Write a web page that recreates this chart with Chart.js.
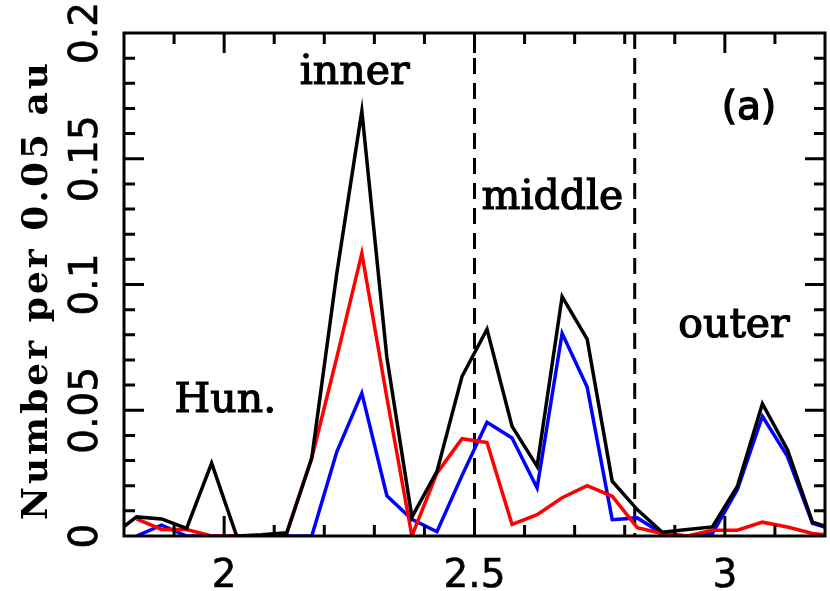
<!DOCTYPE html>
<html>
<head>
<meta charset="utf-8">
<script src="https://cdn.jsdelivr.net/npm/chart.js@4.4.1/dist/chart.umd.min.js"></script>
<style>
  body { margin: 0; background: #fff; }
  canvas { display: block; }
</style>
</head>
<body>
<canvas id="distChart" width="830" height="591"></canvas>
<script>
// bin centres in au (0.05 au bins)
var binCentres = [1.775, 1.825, 1.875, 1.925, 1.975, 2.025, 2.075, 2.125, 2.175, 2.225,
                  2.275, 2.325, 2.375, 2.425, 2.475, 2.525, 2.575, 2.625, 2.675, 2.725,
                  2.775, 2.825, 2.875, 2.925, 2.975, 3.025, 3.075, 3.125, 3.175, 3.225];
var totalCounts = [0, 0.0076, 0.0068, 0.003, 0.029, 0, 0.0005, 0.0013, 0.031, 0.1045,
                   0.169, 0.071, 0.0075, 0.0257, 0.0634, 0.0822, 0.0436, 0.0277, 0.0952, 0.0783,
                   0.0218, 0.0105, 0.0015, 0.0026, 0.0036, 0.0198, 0.0526, 0.0343, 0.0055, 0.0023];
var redCounts = [null, 0.0068, 0.0026, 0.0026, 0, 0, 0, 0.001, 0.031, 0.071,
                 0.1124, 0.055, 0, 0.025, 0.0387, 0.0372, 0.0046, 0.0085, 0.0152, 0.020,
                 0.0158, 0.0033, 0.001, 0, 0.0023, 0.0023, 0.0055, 0.0036, 0.001, 0];
var blueCounts = [null, 0, 0.0043, 0, 0, 0, 0, 0, 0, 0.0335,
                  0.0568, 0.016, 0.0066, 0.0017, 0.024, 0.0452, 0.039, 0.0191, 0.0806, 0.0592,
                  0.0065, 0.0072, 0.001, 0, 0.001, 0.0185, 0.0476, 0.0317, 0.005, 0.002];

var xTicks = [2, 2.5, 3];
var xTickLabels = ['2', '2.5', '3'];
var yTicks = [0, 0.05, 0.1, 0.15, 0.2];
var yTickLabels = ['0', '0.05', '0.1', '0.15', '0.2'];
var boundaries = [2.5, 2.82];
var regionNames = ['Hun.', 'inner', 'middle', 'outer'];
var regionSpots = [[1.901, 0.0495], [2.151, 0.1798], [2.514, 0.1302], [2.907, 0.0793]];

function pts(ys) {
  return binCentres.map(function (a, i) { return { x: a, y: ys[i] }; });
}

function heavyText(ctx, txt, x, y, w) {
  ctx.lineWidth = w;
  ctx.strokeText(txt, x, y);
  ctx.fillText(txt, x, y);
}

var framePlugin = {
  id: 'frame',
  beforeDatasetsDraw: function (chart) {
    var ctx = chart.ctx, area = chart.chartArea, xs = chart.scales.x;
    ctx.save();
    ctx.strokeStyle = '#000';
    ctx.lineWidth = 3;
    ctx.setLineDash([16, 9]);
    boundaries.forEach(function (b) {
      var px = xs.getPixelForValue(b);
      ctx.beginPath();
      ctx.moveTo(px, area.top);
      ctx.lineTo(px, area.bottom);
      ctx.stroke();
    });
    ctx.restore();
  },
  afterDatasetsDraw: function (chart) {
    var ctx = chart.ctx, area = chart.chartArea;
    var xs = chart.scales.x, ys = chart.scales.y;
    ctx.save();
    ctx.strokeStyle = '#000';
    ctx.fillStyle = '#000';
    ctx.lineWidth = 3;
    ctx.setLineDash([]);
    ctx.strokeRect(area.left, area.top, area.right - area.left, area.bottom - area.top);

    // ticks on all four sides, pointing inward
    ctx.beginPath();
    for (var i = 19; i <= 31; i++) {
      var px = xs.getPixelForValue(i / 10);
      var len = (i % 5 === 0) ? 20 : 11;
      ctx.moveTo(px, area.bottom); ctx.lineTo(px, area.bottom - len);
      ctx.moveTo(px, area.top); ctx.lineTo(px, area.top + len);
    }
    for (var j = 1; j < 20; j++) {
      var py = ys.getPixelForValue(j / 100);
      var ylen = (j % 5 === 0) ? 20 : 11;
      ctx.moveTo(area.left, py); ctx.lineTo(area.left + ylen, py);
      ctx.moveTo(area.right, py); ctx.lineTo(area.right - ylen, py);
    }
    ctx.stroke();

    // tick labels
    ctx.font = '39px "DejaVu Sans"';
    ctx.textAlign = 'center';
    ctx.textBaseline = 'alphabetic';
    xTicks.forEach(function (v, k) {
      heavyText(ctx, xTickLabels[k], xs.getPixelForValue(v), 587, 0.6);
    });
    yTicks.forEach(function (v, k) {
      ctx.save();
      ctx.translate(97, ys.getPixelForValue(v));
      ctx.rotate(-Math.PI / 2);
      heavyText(ctx, yTickLabels[k], 0, 0, 0.6);
      ctx.restore();
    });

    // axis title
    ctx.save();
    ctx.font = 'bold 36px "DejaVu Serif"';
    ctx.letterSpacing = '3px';
    ctx.translate(47, 290);
    ctx.rotate(-Math.PI / 2);
    ctx.fillText('Number per 0.05 au', 0, 0);
    ctx.restore();

    // region names
    ctx.font = '41px "DejaVu Serif"';
    ctx.textAlign = 'left';
    regionNames.forEach(function (name, k) {
      heavyText(ctx, name, xs.getPixelForValue(regionSpots[k][0]), ys.getPixelForValue(regionSpots[k][1]), 1.2);
    });

    ctx.font = '39px "DejaVu Sans"';
    heavyText(ctx, '(a)', xs.getPixelForValue(2.994), ys.getPixelForValue(0.166), 1.4);
    ctx.restore();
  }
};

var ctx = document.getElementById('distChart').getContext('2d');
var distChart = new Chart(ctx, {
  type: 'line',
  data: {
    datasets: [{
      label: 'all',
      data: pts(totalCounts),
      borderColor: '#000000',
      borderWidth: 3.5
    }, {
      label: 'red',
      data: pts(redCounts),
      borderColor: '#ff0000',
      borderWidth: 3.5
    }, {
      label: 'blue',
      data: pts(blueCounts),
      borderColor: '#0000ff',
      borderWidth: 3.5
    }]
  },
  options: {
    responsive: false,
    animation: false,
    devicePixelRatio: 1,
    layout: { padding: { left: 124, top: 33, right: 5, bottom: 55 } },
    elements: {
      point: { radius: 0, hoverRadius: 0 },
      line: { tension: 0, fill: false }
    },
    plugins: { legend: { display: false }, tooltip: { enabled: false } },
    scales: {
      x: { type: 'linear', min: 1.8, max: 3.2, display: false },
      y: { type: 'linear', min: 0, max: 0.2, display: false }
    }
  },
  plugins: [framePlugin]
});
</script>
</body>
</html>
